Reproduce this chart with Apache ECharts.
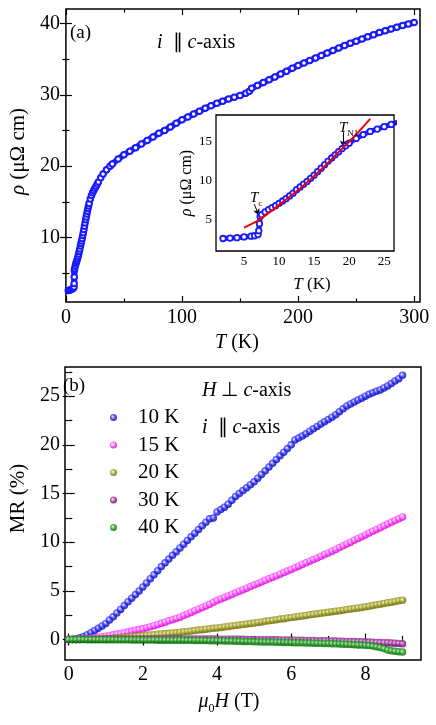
<!DOCTYPE html>
<html>
<head>
<meta charset="utf-8">
<script src="https://cdn.jsdelivr.net/npm/echarts@6/dist/echarts.min.js"></script>
<style>
  html, body { margin: 0; padding: 0; background: #fff; }
  #chart { width: 436px; height: 725px; }
</style>
</head>
<body>
<div id="chart"></div>
<script>
// (a) resistivity vs temperature, i || c-axis
const tempK = [2, 3, 4, 5, 6, 6.5, 7, 7.1, 7.2, 7.3, 7.5, 8, 8.5, 9, 9.5, 10, 10.5, 11, 11.5, 12,
  12.5, 13, 13.5, 14, 14.5, 15, 15.5, 16, 16.5, 17, 17.5, 18, 18.5, 19, 19.5, 20, 21, 22, 23, 24,
  25, 26, 27, 28, 30, 32, 35, 38, 40, 45, 50, 55, 60, 65, 70, 75, 80, 85, 90, 95,
  100, 105, 110, 115, 120, 125, 130, 135, 140, 145, 150, 155, 158, 160, 165, 170, 175, 180, 185, 190,
  195, 200, 205, 210, 215, 220, 225, 230, 235, 240, 245, 250, 255, 260, 265, 270, 275, 280, 285, 290,
  295, 300]
const rho = [2.6, 2.65, 2.7, 2.8, 2.9, 2.95, 3.1, 3.6, 4.5, 5.4, 5.65, 6.0, 6.3, 6.55, 6.8, 7.1, 7.4, 7.7, 8.05, 8.4,
  8.85, 9.2, 9.55, 9.9, 10.3, 10.7, 11.15, 11.6, 12.05, 12.5, 12.9, 13.3, 13.7, 14.1, 14.45, 14.8, 15.4, 15.9, 16.3, 16.6,
  16.9, 17.2, 17.5, 17.8, 18.4, 18.9, 19.5, 20.0, 20.3, 21.0, 21.6, 22.1, 22.6, 23.1, 23.6, 24.1, 24.6, 25.0, 25.5, 26.0,
  26.5, 26.9, 27.3, 27.7, 28.1, 28.45, 28.8, 29.1, 29.4, 29.65, 29.9, 30.2, 30.5, 30.9, 31.3, 31.7, 32.1, 32.5, 32.9, 33.3,
  33.7, 34.1, 34.45, 34.8, 35.15, 35.5, 35.85, 36.2, 36.55, 36.9, 37.2, 37.5, 37.8, 38.1, 38.4, 38.7, 38.95, 39.2, 39.45, 39.7,
  39.9, 40.1]

// inset: fit line
const fitT = [5, 7, 9, 11, 13, 15, 17, 19, 21, 23]
const fitRho = [4.0, 4.9, 6.2, 7.6, 9.0, 10.6, 12.3, 14.1, 15.9, 17.9]

// (b) magnetoresistance vs field
const fieldT = [0, 0.1, 0.2, 0.3, 0.4, 0.5, 0.6, 0.7, 0.8, 0.9,
  1.0, 1.1, 1.2, 1.3, 1.4, 1.5, 1.6, 1.7, 1.8, 1.9,
  2.0, 2.1, 2.2, 2.3, 2.4, 2.5, 2.6, 2.7, 2.8, 2.9,
  3.0, 3.1, 3.2, 3.3, 3.4, 3.5, 3.6, 3.7, 3.8, 3.9,
  4.0, 4.1, 4.2, 4.3, 4.4, 4.5, 4.6, 4.7, 4.8, 4.9,
  5.0, 5.1, 5.2, 5.3, 5.4, 5.5, 5.6, 5.7, 5.8, 5.9,
  6.0, 6.1, 6.2, 6.3, 6.4, 6.5, 6.6, 6.7, 6.8, 6.9,
  7.0, 7.1, 7.2, 7.3, 7.4, 7.5, 7.6, 7.7, 7.8, 7.9,
  8.0, 8.1, 8.2, 8.3, 8.4, 8.5, 8.6, 8.7, 8.8, 8.9, 9.0]
const mr10 = [0, 0.02, 0.08, 0.18, 0.32, 0.5, 0.7, 0.92, 1.15, 1.4,
  1.65, 2.0, 2.35, 2.72, 3.1, 3.5, 3.88, 4.25, 4.62, 5.0,
  5.4, 5.82, 6.25, 6.65, 7.08, 7.5, 7.88, 8.27, 8.65, 9.02,
  9.4, 9.8, 10.18, 10.55, 10.93, 11.3, 11.68, 12.05, 12.4, 12.5,
  13.1, 13.35, 13.6, 13.9, 14.3, 14.7, 15.0, 15.3, 15.6, 15.9,
  16.2, 16.58, 16.96, 17.34, 17.72, 18.1, 18.5, 18.88, 19.25, 19.62,
  20.0, 20.5, 20.7, 20.9, 21.15, 21.4, 21.65, 21.9, 22.15, 22.38,
  22.6, 22.85, 23.1, 23.4, 23.7, 24.0, 24.2, 24.4, 24.6, 24.8,
  25.0, 25.2, 25.35, 25.5, 25.65, 25.85, 26.05, 26.3, 26.55, 26.8, 27.15]
const mr15 = [0, 0, 0.01, 0.03, 0.06, 0.09, 0.13, 0.18, 0.23, 0.29,
  0.35, 0.42, 0.49, 0.56, 0.63, 0.71, 0.79, 0.87, 0.96, 1.03,
  1.1, 1.21, 1.32, 1.43, 1.55, 1.67, 1.79, 1.92, 2.04, 2.17,
  2.3, 2.46, 2.62, 2.78, 2.95, 3.12, 3.29, 3.46, 3.64, 3.82,
  4.0, 4.16, 4.32, 4.48, 4.64, 4.8, 4.96, 5.12, 5.28, 5.44,
  5.6, 5.76, 5.92, 6.08, 6.24, 6.4, 6.56, 6.72, 6.88, 7.04,
  7.2, 7.37, 7.54, 7.71, 7.88, 8.05, 8.22, 8.39, 8.56, 8.73,
  8.9, 9.08, 9.26, 9.45, 9.63, 9.82, 10.0, 10.2, 10.38, 10.57,
  10.75, 10.94, 11.12, 11.31, 11.49, 11.68, 11.86, 12.05, 12.23, 12.42, 12.6]
const mr20 = [0, 0, 0, 0.01, 0.02, 0.03, 0.04, 0.05, 0.07, 0.08,
  0.1, 0.12, 0.15, 0.17, 0.2, 0.23, 0.26, 0.3, 0.33, 0.37,
  0.4, 0.43, 0.47, 0.5, 0.54, 0.57, 0.61, 0.64, 0.68, 0.71,
  0.75, 0.79, 0.84, 0.88, 0.93, 0.97, 1.02, 1.06, 1.11, 1.15,
  1.2, 1.25, 1.3, 1.35, 1.4, 1.45, 1.5, 1.55, 1.6, 1.65,
  1.7, 1.76, 1.81, 1.87, 1.93, 1.98, 2.04, 2.1, 2.15, 2.21,
  2.27, 2.32, 2.38, 2.43, 2.48, 2.54, 2.59, 2.64, 2.7, 2.75,
  2.8, 2.86, 2.91, 2.97, 3.02, 3.08, 3.14, 3.19, 3.25, 3.3,
  3.36, 3.43, 3.5, 3.57, 3.64, 3.71, 3.78, 3.84, 3.91, 3.98, 4.05]
const mr30 = [0, 0, 0.01, 0.01, 0.02, 0.02, 0.03, 0.03, 0.04, 0.04,
  0.05, 0.05, 0.05, 0.06, 0.06, 0.06, 0.06, 0.07, 0.07, 0.07,
  0.07, 0.07, 0.07, 0.07, 0.07, 0.07, 0.07, 0.07, 0.07, 0.07,
  0.07, 0.07, 0.07, 0.06, 0.06, 0.06, 0.06, 0.05, 0.05, 0.05,
  0.05, 0.04, 0.04, 0.04, 0.03, 0.03, 0.02, 0.02, 0.01, 0.01,
  0.0, -0.01, -0.01, -0.02, -0.02, -0.03, -0.03, -0.04, -0.04, -0.05,
  -0.05, -0.06, -0.07, -0.08, -0.09, -0.1, -0.1, -0.11, -0.12, -0.13,
  -0.14, -0.15, -0.16, -0.17, -0.18, -0.19, -0.2, -0.21, -0.22, -0.23,
  -0.25, -0.26, -0.28, -0.29, -0.31, -0.32, -0.34, -0.36, -0.38, -0.4, -0.42]
const mr40 = [0, 0, 0, 0, 0, -0.01, -0.01, -0.01, -0.01, -0.02,
  -0.02, -0.02, -0.02, -0.03, -0.03, -0.03, -0.03, -0.04, -0.04, -0.04,
  -0.05, -0.05, -0.05, -0.05, -0.06, -0.06, -0.06, -0.06, -0.07, -0.07,
  -0.07, -0.08, -0.08, -0.08, -0.09, -0.09, -0.1, -0.1, -0.11, -0.11,
  -0.12, -0.13, -0.14, -0.15, -0.16, -0.17, -0.18, -0.19, -0.2, -0.21,
  -0.22, -0.23, -0.24, -0.25, -0.26, -0.26, -0.27, -0.28, -0.29, -0.3,
  -0.31, -0.32, -0.33, -0.34, -0.35, -0.36, -0.37, -0.38, -0.39, -0.4,
  -0.41, -0.42, -0.44, -0.45, -0.47, -0.49, -0.51, -0.53, -0.55, -0.57,
  -0.59, -0.62, -0.67, -0.74, -0.82, -0.93, -1.08, -1.16, -1.21, -1.25, -1.28]

const mrSeries = [
  { name: '10 K', values: mr10, hi: '#6a6aff', base: '#1c1cf0', dark: '#0000a0' },
  { name: '15 K', values: mr15, hi: '#ff9cff', base: '#ff2cff', dark: '#c000c0' },
  { name: '20 K', values: mr20, hi: '#c8c860', base: '#8c8c14', dark: '#5a5a00' },
  { name: '30 K', values: mr30, hi: '#c070c0', base: '#8c1c8c', dark: '#580058' },
  { name: '40 K', values: mr40, hi: '#60c060', base: '#108c10', dark: '#005800' }
]

// tick labels
const aTicksX = [0, 100, 200, 300]
const aMinorX = [50, 150, 250]
const aTicksY = [10, 20, 30, 40]
const aMinorY = [5, 15, 25, 35]
const inTicksX = [5, 10, 15, 20, 25]
const inMinorX = [2.5, 7.5, 12.5, 17.5, 22.5]
const inTicksY = [5, 10, 15]
const inMinorY = [2.5, 7.5, 12.5, 17.5]
const bTicksX = [0, 2, 4, 6, 8]
const bMinorX = [1, 3, 5, 7, 9]
const bTicksY = [0, 5, 10, 15, 20, 25]
const bMinorY = [2.5, 7.5, 12.5, 17.5, 22.5, 27.5]

const FONT = 'Liberation Serif'
const chart = echarts.init(document.getElementById('chart'), null, { renderer: 'canvas' })

// four axes per side pair: labelled major, minor, mirrored major, mirrored minor
function sideAxes (dim, grid, min, max, major, minor, o) {
  const sides = dim === 'x' ? ['bottom', 'top'] : ['left', 'right']
  const out = []
  sides.forEach((pos, k) => {
    [major, minor].forEach((vals, m) => {
      const main = k === 0 && m === 0
      const ax = {
        type: 'value',
        gridIndex: grid,
        position: pos,
        min: min,
        max: max,
        axisLine: { show: false },
        splitLine: { show: false },
        axisTick: {
          show: true,
          inside: true,
          length: m === 0 ? o.tick : o.tick * 0.6,
          customValues: vals,
          lineStyle: { color: '#000', width: 1.2 }
        },
        axisLabel: {
          show: main,
          customValues: vals,
          margin: o.margin,
          color: '#000',
          fontFamily: FONT,
          fontSize: o.fontSize
        }
      }
      if (main) {
        ax.name = o.name
        ax.nameLocation = 'middle'
        ax.nameGap = o.nameGap
        ax.nameTextStyle = {
          color: '#000',
          fontFamily: FONT,
          fontSize: o.nameSize,
          padding: o.namePad || 0,
          rich: o.rich
        }
      }
      out.push(ax)
    })
  })
  return out
}

function sphere (s) {
  return {
    type: 'radial', x: 0.4, y: 0.4, r: 0.65,
    colorStops: [
      { offset: 0, color: '#ffffff' },
      { offset: 0.3, color: s.hi },
      { offset: 0.6, color: s.base },
      { offset: 1, color: s.dark }
    ]
  }
}

const richName = (size) => ({
  i: { fontStyle: 'italic', fontFamily: FONT, fontSize: size, lineHeight: size + 6 },
  n: { fontFamily: FONT, fontSize: size, lineHeight: size + 6 },
  s: { fontFamily: FONT, fontSize: Math.round(size * 0.62), verticalAlign: 'bottom', lineHeight: size + 6 }
})

const xAxes = [].concat(
  sideAxes('x', 0, 0, 305, aTicksX, aMinorX, { tick: 6, margin: 6, fontSize: 20, name: '{i|T}{n| (K)}', nameGap: 28, nameSize: 20, namePad: [0, 12, 0, 0], rich: richName(20) }),
  sideAxes('x', 1, 1, 26.4, inTicksX, inMinorX, { tick: 4, margin: 4, fontSize: 13, name: '{i|T}{n| (K)}', nameGap: 22, nameSize: 17, namePad: [0, 0, 0, 14], rich: richName(17) }),
  sideAxes('x', 2, -0.1, 9.5, bTicksX, bMinorX, { tick: 6, margin: 5, fontSize: 20, name: '{i|μ}{s|0}{i|H}{n| (T)}', nameGap: 29, nameSize: 20, namePad: [0, 28, 0, 0], rich: richName(20) })
)
const yAxes = [].concat(
  sideAxes('y', 0, 1, 42, aTicksY, aMinorY, { tick: 6, margin: 6, fontSize: 20, name: '{i|ρ}{n| (μΩ cm)}', nameGap: 31, nameSize: 21, namePad: [0, 0, 0, 8], rich: richName(21) }),
  sideAxes('y', 1, 1, 18.4, inTicksY, inMinorY, { tick: 4, margin: 4, fontSize: 13, name: '{i|ρ}{n| (μΩ cm)}', nameGap: 17, nameSize: 16, rich: richName(16) }),
  sideAxes('y', 2, -2.1, 28, bTicksY, bMinorY, { tick: 6, margin: 5, fontSize: 20, name: '{n|MR (%)}', nameGap: 33, nameSize: 21, namePad: [0, 0, 0, 30], rich: richName(21) })
)

const rhoPairs = tempK.map((t, i) => [t, rho[i]])
const insetPairs = rhoPairs.filter(p => p[0] <= 28)

const series = [
  {
    name: 'rho',
    type: 'line',
    xAxisIndex: 0,
    yAxisIndex: 0,
    data: rhoPairs,
    symbol: 'circle',
    symbolSize: 5.5,
    clip: true,
    lineStyle: { color: '#1a1aff', width: 6 },
    itemStyle: { color: '#ffffff', borderColor: '#1a1aff', borderWidth: 2 },
    z: 3
  },
  {
    name: 'rho inset',
    type: 'line',
    xAxisIndex: 4,
    yAxisIndex: 4,
    data: insetPairs,
    symbol: 'circle',
    symbolSize: 5.5,
    clip: true,
    lineStyle: { color: '#1a1aff', width: 5 },
    itemStyle: { color: '#ffffff', borderColor: '#1a1aff', borderWidth: 1.8 },
    z: 5
  },
  {
    name: 'fit',
    type: 'line',
    xAxisIndex: 4,
    yAxisIndex: 4,
    data: fitT.map((t, i) => [t, fitRho[i]]),
    symbol: 'none',
    smooth: 0.3,
    lineStyle: { color: '#ee0000', width: 2 },
    z: 6,
    markLine: {
      silent: true,
      symbol: ['none', 'arrow'],
      symbolSize: [5, 7],
      label: { show: false },
      lineStyle: { color: '#000', width: 1, type: 'solid' },
      data: [
        [{ coord: [6.45, 7.0] }, { coord: [7.15, 5.5] }],
        [{ coord: [19.15, 16.2] }, { coord: [19.15, 14.25] }]
      ]
    }
  }
].concat(mrSeries.map(s => ({
  name: s.name,
  type: 'scatter',
  xAxisIndex: 8,
  yAxisIndex: 8,
  data: fieldT.map((h, i) => [h, s.values[i]]),
  symbol: 'circle',
  symbolSize: 7.5,
  itemStyle: { color: sphere(s) },
  z: 4
})))

const option = {
  animation: false,
  backgroundColor: '#fff',
  grid: [
    { left: 57, top: 9, width: 363, height: 293, show: true, borderColor: '#000', borderWidth: 1.5, backgroundColor: 'transparent' },
    { left: 216, top: 115, width: 178, height: 136, show: true, borderColor: '#000', borderWidth: 1.3, backgroundColor: '#fff', z: 4 },
    { left: 57, top: 367, width: 364, height: 293, show: true, borderColor: '#000', borderWidth: 1.5, backgroundColor: 'transparent' }
  ],
  xAxis: xAxes,
  yAxis: yAxes,
  legend: {
    data: mrSeries.map(s => s.name),
    orient: 'vertical',
    left: 105,
    top: 402,
    icon: 'circle',
    itemWidth: 7,
    itemHeight: 7,
    itemGap: 6.5,
    selectedMode: false,
    textStyle: { fontFamily: FONT, fontSize: 21, color: '#000', padding: [0, 0, 0, 16] }
  },
  graphic: [
    { type: 'text', x: 70, y: 33, style: { text: '(a)', fontFamily: FONT, fontSize: 19, fill: '#000', verticalAlign: 'middle' } },
    { type: 'text', x: 157, y: 43, style: { text: '{i|i}  ∥ {i|c}-axis', fontFamily: FONT, fontSize: 20, fill: '#000', verticalAlign: 'middle', rich: { i: { fontStyle: 'italic', fontFamily: FONT, fontSize: 20 } } } },
    { type: 'text', x: 250, y: 198, z: 20, style: { text: '{i|T}{s|c}', fontFamily: FONT, fontSize: 15, fill: '#000', verticalAlign: 'middle', rich: { i: { fontStyle: 'italic', fontFamily: FONT, fontSize: 15, lineHeight: 20 }, s: { fontFamily: FONT, fontSize: 9, verticalAlign: 'bottom', lineHeight: 20 } } } },
    { type: 'text', x: 339, y: 128, z: 20, style: { text: '{i|T}{s|N1}', fontFamily: FONT, fontSize: 15, fill: '#000', verticalAlign: 'middle', rich: { i: { fontStyle: 'italic', fontFamily: FONT, fontSize: 15, lineHeight: 20 }, s: { fontFamily: FONT, fontSize: 9, verticalAlign: 'bottom', lineHeight: 20 } } } },
    { type: 'text', x: 63, y: 386, style: { text: '(b)', fontFamily: FONT, fontSize: 19, fill: '#000', verticalAlign: 'middle' } },
    { type: 'text', x: 202, y: 391, style: { text: '{i|H} ⊥ {i|c}-axis', fontFamily: FONT, fontSize: 20, fill: '#000', verticalAlign: 'middle', rich: { i: { fontStyle: 'italic', fontFamily: FONT, fontSize: 20 } } } },
    { type: 'text', x: 202, y: 428, style: { text: '{i|i}  ∥ {i|c}-axis', fontFamily: FONT, fontSize: 20, fill: '#000', verticalAlign: 'middle', rich: { i: { fontStyle: 'italic', fontFamily: FONT, fontSize: 20 } } } }
  ],
  series: series
}

chart.setOption(option)
</script>
</body>
</html>
